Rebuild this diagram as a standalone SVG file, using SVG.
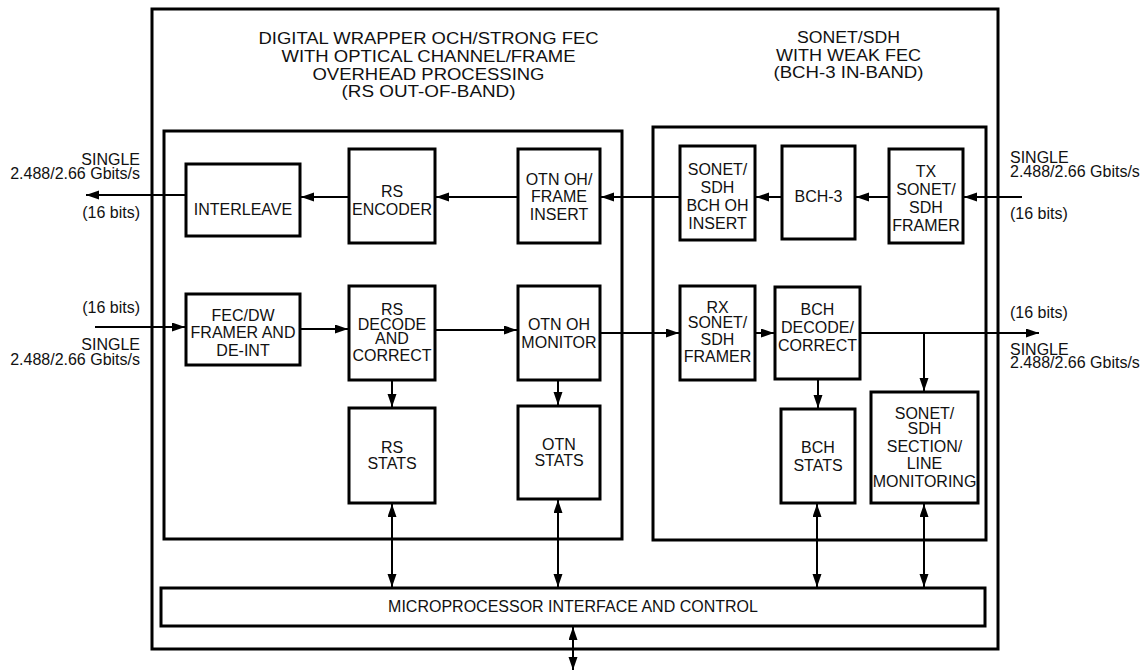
<svg xmlns="http://www.w3.org/2000/svg" width="1142" height="671" viewBox="0 0 1142 671">
<style>
.box{fill:#fff;stroke:#000;stroke-width:3}
.frame{fill:none;stroke:#000;stroke-width:3}
text{font-family:"Liberation Sans",Arial,Helvetica,sans-serif;font-size:16px;fill:#111}
.c{text-anchor:middle}
.r{text-anchor:end}
.w{stroke:#000;stroke-width:2;fill:none}
.a{marker-end:url(#ah)}
.b{marker-end:url(#ah);marker-start:url(#ah)}
</style>
<defs>
<marker id="ah" markerUnits="userSpaceOnUse" markerWidth="14" markerHeight="10" refX="13" refY="4.5" orient="auto-start-reverse">
<path d="M0,0 L13,4.5 L0,9 z" fill="#000"/>
</marker>
</defs>
<rect width="1142" height="671" fill="#fff"/>
<g id="frames">
<rect class="frame" x="152" y="9" width="846" height="640"/>
<rect class="frame" x="164" y="131" width="458" height="408"/>
<rect class="frame" x="653" y="127" width="333" height="413"/>
</g>
<g id="titles">
<text class="c" x="428.5" y="44" textLength="340" lengthAdjust="spacingAndGlyphs">DIGITAL WRAPPER OCH/STRONG FEC</text>
<text class="c" x="428.5" y="62" textLength="294" lengthAdjust="spacingAndGlyphs">WITH OPTICAL CHANNEL/FRAME</text>
<text class="c" x="428.5" y="80" textLength="232" lengthAdjust="spacingAndGlyphs">OVERHEAD PROCESSING</text>
<text class="c" x="428.5" y="97" textLength="174" lengthAdjust="spacingAndGlyphs">(RS OUT-OF-BAND)</text>
<text class="c" x="848.5" y="43" textLength="103" lengthAdjust="spacingAndGlyphs">SONET/SDH</text>
<text class="c" x="848.5" y="61" textLength="145" lengthAdjust="spacingAndGlyphs">WITH WEAK FEC</text>
<text class="c" x="848.5" y="78" textLength="150" lengthAdjust="spacingAndGlyphs">(BCH-3 IN-BAND)</text>
</g>
<g id="io-labels">
<text class="r" x="140" y="165">SINGLE</text>
<text class="r" x="140" y="179">2.488/2.66 Gbits/s</text>
<text class="r" x="140" y="218">(16 bits)</text>
<text class="r" x="140" y="313">(16 bits)</text>
<text class="r" x="140" y="350">SINGLE</text>
<text class="r" x="140" y="365">2.488/2.66 Gbits/s</text>
<text x="1010" y="163">SINGLE</text>
<text x="1010" y="177">2.488/2.66 Gbits/s</text>
<text x="1010" y="219">(16 bits)</text>
<text x="1010" y="318">(16 bits)</text>
<text x="1010" y="355">SINGLE</text>
<text x="1010" y="368">2.488/2.66 Gbits/s</text>
</g>
<g id="connectors">
<line class="w a" x1="186" y1="195" x2="86" y2="195"/>
<line class="w a" x1="349" y1="197" x2="301" y2="197"/>
<line class="w a" x1="518" y1="197" x2="436" y2="197"/>
<line class="w a" x1="680" y1="197" x2="601" y2="197"/>
<line class="w a" x1="782" y1="197" x2="756" y2="197"/>
<line class="w a" x1="889" y1="197" x2="856" y2="197"/>
<line class="w a" x1="1022" y1="197" x2="964" y2="197"/>
<line class="w a" x1="95" y1="327" x2="185" y2="327"/>
<line class="w a" x1="300" y1="329" x2="348" y2="329"/>
<line class="w a" x1="435" y1="330" x2="517" y2="330"/>
<line class="w a" x1="600" y1="333" x2="679" y2="333"/>
<line class="w a" x1="755" y1="333" x2="774" y2="333"/>
<line class="w a" x1="860" y1="333" x2="1039" y2="333"/>
<line class="w a" x1="924" y1="333" x2="924" y2="391"/>
<line class="w a" x1="392" y1="380" x2="392" y2="407"/>
<line class="w a" x1="558" y1="380" x2="558" y2="405"/>
<line class="w a" x1="818" y1="379" x2="818" y2="408"/>
<line class="w b" x1="392" y1="504" x2="392" y2="587"/>
<line class="w b" x1="558" y1="500" x2="558" y2="587"/>
<line class="w b" x1="817" y1="504" x2="817" y2="587"/>
<line class="w b" x1="924" y1="504" x2="924" y2="587"/>
<line class="w b" x1="573" y1="627" x2="573" y2="670"/>
</g>
<g id="interleave"><rect class="box" x="186" y="164" width="114" height="72"/><text class="c" x="243" y="215">INTERLEAVE</text></g>
<g id="rs-encoder"><rect class="box" x="349" y="149" width="86" height="94"/><text class="c" x="392" y="197">RS</text><text class="c" x="392" y="215">ENCODER</text></g>
<g id="otn-oh-insert"><rect class="box" x="518" y="149" width="82" height="94"/><text class="c" x="559" y="185">OTN OH/</text><text class="c" x="559" y="202">FRAME</text><text class="c" x="559" y="220">INSERT</text></g>
<g id="bch-oh-insert"><rect class="box" x="680" y="146" width="75" height="94"/><text class="c" x="717.5" y="175">SONET/</text><text class="c" x="717.5" y="193">SDH</text><text class="c" x="717.5" y="211">BCH OH</text><text class="c" x="717.5" y="229">INSERT</text></g>
<g id="bch3"><rect class="box" x="782" y="146" width="73" height="93"/><text class="c" x="818.5" y="202">BCH-3</text></g>
<g id="tx-framer"><rect class="box" x="889" y="149" width="74" height="94"/><text class="c" x="926" y="177">TX</text><text class="c" x="926" y="195">SONET/</text><text class="c" x="926" y="213">SDH</text><text class="c" x="926" y="231">FRAMER</text></g>
<g id="fec-dw-framer"><rect class="box" x="186" y="294" width="114" height="71"/><text class="c" x="243" y="321">FEC/DW</text><text class="c" x="243" y="338">FRAMER AND</text><text class="c" x="243" y="356">DE-INT</text></g>
<g id="rs-decode"><rect class="box" x="349" y="286" width="86" height="94"/><text class="c" x="392" y="315">RS</text><text class="c" x="392" y="330">DECODE</text><text class="c" x="392" y="344">AND</text><text class="c" x="392" y="361">CORRECT</text></g>
<g id="otn-oh-monitor"><rect class="box" x="518" y="286" width="82" height="94"/><text class="c" x="559" y="330">OTN OH</text><text class="c" x="559" y="348">MONITOR</text></g>
<g id="rx-framer"><rect class="box" x="680" y="286" width="75" height="94"/><text class="c" x="717.5" y="313">RX</text><text class="c" x="717.5" y="328">SONET/</text><text class="c" x="717.5" y="345">SDH</text><text class="c" x="717.5" y="362">FRAMER</text></g>
<g id="bch-decode"><rect class="box" x="775" y="287" width="85" height="92"/><text class="c" x="817.5" y="315">BCH</text><text class="c" x="817.5" y="333">DECODE/</text><text class="c" x="817.5" y="351">CORRECT</text></g>
<g id="rs-stats"><rect class="box" x="349" y="408" width="86" height="95"/><text class="c" x="392" y="453">RS</text><text class="c" x="392" y="469">STATS</text></g>
<g id="otn-stats"><rect class="box" x="518" y="406" width="82" height="93"/><text class="c" x="559" y="450">OTN</text><text class="c" x="559" y="466">STATS</text></g>
<g id="bch-stats"><rect class="box" x="781" y="409" width="74" height="94"/><text class="c" x="818" y="453">BCH</text><text class="c" x="818" y="471">STATS</text></g>
<g id="section-line-monitoring"><rect class="box" x="871" y="392" width="107" height="111"/><text class="c" x="924.5" y="419">SONET/</text><text class="c" x="924.5" y="434">SDH</text><text class="c" x="924.5" y="452">SECTION/</text><text class="c" x="924.5" y="469">LINE</text><text class="c" x="924.5" y="487">MONITORING</text></g>
<g id="microprocessor"><rect class="box" x="161" y="588" width="824" height="38"/><text class="c" x="573" y="612">MICROPROCESSOR INTERFACE AND CONTROL</text></g>
</svg>
